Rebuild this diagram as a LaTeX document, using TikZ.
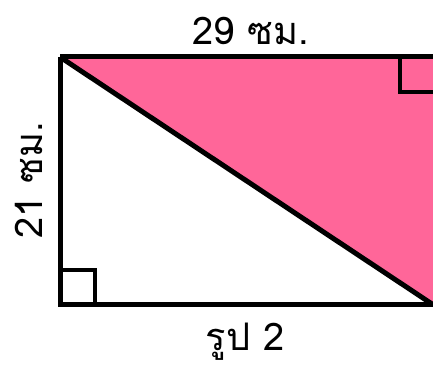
\documentclass[tikz,border=0pt]{standalone}
\usepackage{fontspec}
\usepackage{xcolor}
\usepackage{tikz}
\newfontfamily\thaifont[Script=Thai]{Loma}
\definecolor{shadepink}{RGB}{255, 102, 153}

\begin{document}
\begin{tikzpicture}[x=1pt, y=-1pt,
  edge/.style={line width=5pt, line join=miter},
  rmark/.style={line width=4pt},
  lbl/.style={font=\thaifont\fontsize{38}{42}\selectfont, inner sep=0pt}]

  \useasboundingbox (0,0) rectangle (433,366);

  \coordinate (tl) at (60,57);
  \coordinate (tr) at (436,57);
  \coordinate (br) at (436,304);
  \coordinate (bl) at (60,304);
  \coordinate (dg) at (432,304);

  % shaded half
  \fill[shadepink] (tl) -- (tr) -- (br) -- (dg) -- cycle;

  % right angle marks
  \draw[rmark] (400,57) |- (436,92);
  \draw[rmark] (60,270) -| (95,304);

  \draw[edge] (tl) -- (tr) (tl) -- (bl) -- (br);
  \draw[edge] (tl) -- (dg);

  \node[lbl] (top) at (251,31) {29 ซม.};
  \node[lbl, rotate=90] (side) at (29,180) {21 ซม.};
  \node[lbl] (cap) at (245,342) {รูป 2};
\end{tikzpicture}
\end{document}
